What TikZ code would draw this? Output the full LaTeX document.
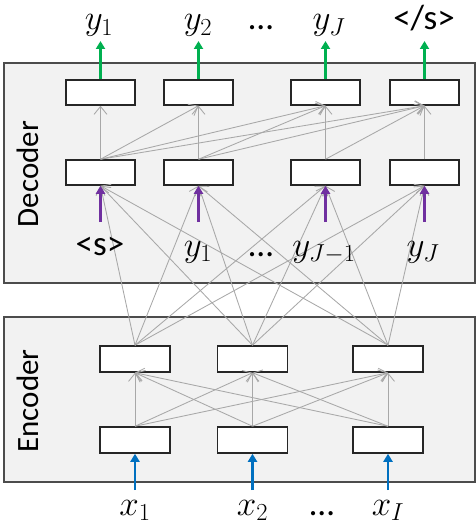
\RequirePackage{fix-cm}
\documentclass[tikz,border=0pt]{standalone}
\usepackage{fontspec}
\setmainfont{Carlito}
\usetikzlibrary{arrows.meta}
\definecolor{panel}{RGB}{242,242,242}
\definecolor{linkgray}{RGB}{168,168,168}
\definecolor{outgreen}{RGB}{0,176,80}
\definecolor{inpurple}{RGB}{112,48,160}
\definecolor{inblue}{RGB}{0,112,192}
\begin{document}
\begin{tikzpicture}[x=1pt,y=-1pt,
  panelbox/.style={draw=black!70, line width=1.2pt, fill=panel},
  cell/.style={draw=black!85, line width=1.5pt, fill=white,
    minimum width=69pt, minimum height=25pt, inner sep=0pt},
  link/.style={draw=linkgray, line width=0.85pt,
    -{Straight Barb[length=8pt,width=13pt]}},
  feed/.style={line width=2.6pt, -{Triangle[length=8pt,width=9pt]}},
  word/.style={font=\fontsize{35}{35}\selectfont, anchor=base, inner sep=0pt},
  side/.style={font=\fontsize{31}{31}\selectfont, rotate=90, inner sep=0pt}
]
\useasboundingbox (0,0) rectangle (476,527);

% panels
\draw[panelbox] (4,63) rectangle (475,283);
\draw[panelbox] (4,317) rectangle (475,482);
\node[side] (declabel) at (28,174) {Decoder};
\node[side] (enclabel) at (28,401) {Encoder};

% decoder cells
\foreach \i/\x in {1/100.5,2/198.5,3/325.5,4/424.5}{
  \node[cell] (t\i) at (\x,92.5) {};
  \node[cell] (d\i) at (\x,172.5) {};
}
% encoder cells
\foreach \i/\x in {1/135,2/252.5,3/388}{
  \node[cell, minimum width=70pt, minimum height=26pt] (h\i) at (\x,359) {};
  \node[cell, minimum width=70pt, minimum height=26pt] (e\i) at (\x,440) {};
}

% encoder: every input cell feeds every hidden cell
\foreach \i in {1,2,3}{
  \foreach \j in {1,2,3}{
    \draw[link] (e\i.north) -- (h\j.south);
  }
}
% encoder to decoder
\foreach \i in {1,2,3}{
  \foreach \j in {1,2,3,4}{
    \draw[link] (h\i.north) -- (d\j.south);
  }
}
% decoder: causal connections
\foreach \i in {1,2,3,4}{
  \foreach \j in {\i,...,4}{
    \draw[link] (d\i.north) -- (t\j.south);
  }
}

% outputs and inputs
\foreach \i/\x in {1/100.5,2/198.5,3/325.5,4/424.5}{
  \coordinate (o\i) at (\x,41);
  \draw[feed, outgreen] (t\i.north) -- (o\i);
  \coordinate (p\i) at (\x,222);
  \draw[feed, inpurple] (p\i) -- (d\i.south);
}
\foreach \i/\x in {1/135,2/252.5,3/388}{
  \coordinate (q\i) at (\x,490);
  \draw[feed, inblue] (q\i) -- (e\i.south);
}

% output words
\node[word] (y1) at (99,30) {$y_1$};
\node[word] (y2) at (198,30) {$y_2$};
\node[word] (od) at (261,30) {…};
\node[word] (yJ) at (329,30) {$y_J$};
\node[word] (eos) at (424,30) {</s>};

% decoder input words
\node[word] (bos) at (100,255) {<s>};
\node[word] (iy1) at (198,256) {$y_1$};
\node[word] (idots) at (261,256) {…};
\node[word] (iyJm) at (324,256) {$y_{J-1}$};
\node[word] (iyJ) at (423,256) {$y_J$};

% source words
\node[word] (x1) at (135,515) {$x_1$};
\node[word] (x2) at (252.5,515) {$x_2$};
\node[word] (xd) at (322,515) {…};
\node[word] (xI) at (388,515) {$x_I$};
\end{tikzpicture}
\end{document}
